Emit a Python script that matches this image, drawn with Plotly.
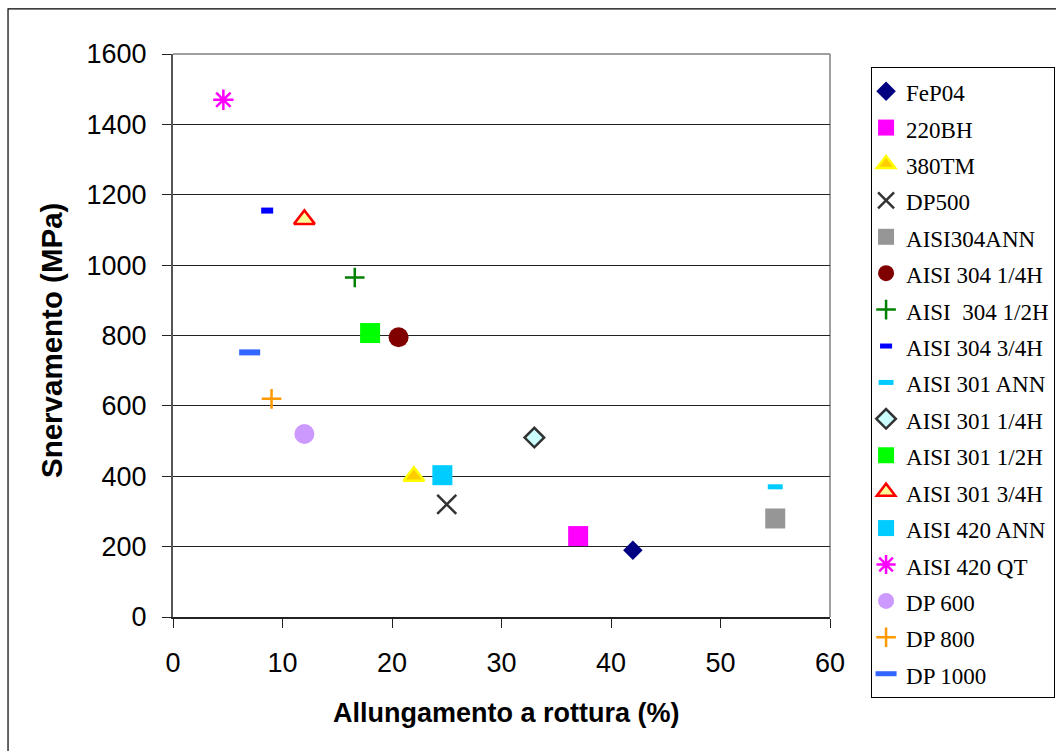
import plotly.graph_objects as go

# Steel grades: elongation at break (%) vs. yield strength (MPa)
grades = ["FeP04", "220BH", "380TM", "DP500", "AISI304ANN", "AISI 304 1/4H",
          "AISI\u00a0\u00a0304 1/2H", "AISI 304 3/4H", "AISI 301 ANN", "AISI 301 1/4H",
          "AISI 301 1/2H", "AISI 301 3/4H", "AISI 420 ANN", "AISI 420 QT",
          "DP 600", "DP 800", "DP 1000"]
elongation = [42, 37, 22, 25, 55, 20.6, 16.6, 8.6, 55, 33, 18, 12, 24.6, 4.6, 12, 9, 7]
yield_strength = [190, 230, 400, 320, 280, 795, 965, 1155, 370, 510, 807, 1130, 403, 1470, 520, 620, 752]

# marker style per grade: symbol, size, fill, outline colour, outline width
styles = [
    ("diamond", 15, "#000080", "#000080", 0),
    ("square", 20, "#FF00FF", "#FF00FF", 0),
    ("triangle-up", 18, "#FFCC00", "#FFFF00", 2.5),
    ("x-thin", 19, "#333333", "#333333", 2.5),
    ("square", 20, "#969696", "#969696", 0),
    ("circle", 20, "#800000", "#800000", 0),
    ("cross-thin", 14, "#008000", "#008000", 2.5),
    ("line-ew", 8.6, "#0000FF", "#0000FF", 6),
    ("line-ew", 10.7, "#00CCFF", "#00CCFF", 5),
    ("diamond", 15, "#CCFFFF", "#333333", 2.5),
    ("square", 20, "#00FF00", "#00FF00", 0),
    ("triangle-up", 18, "#FFFF99", "#FF0000", 2.5),
    ("square", 20, "#00CCFF", "#00CCFF", 0),
    ("asterisk-open", 17, "#FF00FF", "#FF00FF", 2.5),
    ("circle", 20, "#CC99FF", "#CC99FF", 0),
    ("cross-thin", 14, "#FF9900", "#FF9900", 2.5),
    ("line-ew", 15, "#3366FF", "#3366FF", 6),
]

fig = go.Figure()
for name, xv, yv, (sym, size, fill, lc, lw) in zip(grades, elongation, yield_strength, styles):
    fig.add_trace(go.Scatter(
        x=[xv], y=[yv], mode="markers",
        name=f"<span style='font-size:23px'>{name}</span>",
        marker=dict(symbol=sym, size=size, color=fill,
                    line=dict(color=lc, width=lw)),
    ))

tick_font = dict(family="Liberation Sans, Arial, sans-serif", size=27, color="black")
xtitle_font = dict(family="Liberation Sans, Arial, sans-serif", size=27, color="black")
ytitle_font = dict(family="Liberation Sans, Arial, sans-serif", size=29.5, color="black")

fig.update_layout(
    width=1056, height=751,
    margin=dict(l=173, r=226, t=54, b=134, autoexpand=False),
    paper_bgcolor="white", plot_bgcolor="white",
    showlegend=True,
    legend=dict(
        x=1.0625, y=0.977, xanchor="left", yanchor="top",
        font=dict(family="Liberation Serif, Times New Roman, serif", size=25.7, color="black"),
        bordercolor="black", borderwidth=1, bgcolor="white",
        itemwidth=30, tracegroupgap=0, indentation=-6, maxheight=700,
    ),
    xaxis=dict(
        range=[0, 60], dtick=10, showgrid=False, zeroline=False,
        showline=True, linecolor="#222222", linewidth=2,
        ticks="outside", ticklen=9, tickcolor="#222222", tickwidth=1,
        tickfont=tick_font, ticklabelstandoff=12,
    ),
    yaxis=dict(
        range=[0, 1600], dtick=200, showgrid=True, gridcolor="#222222", gridwidth=1,
        zeroline=False,
        showline=True, linecolor="#555555", linewidth=2,
        ticks="outside", ticklen=9, tickcolor="#222222", tickwidth=1,
        tickfont=tick_font, ticklabelstandoff=10,
    ),
    annotations=[
        dict(text="<b>Allungamento a rottura (%)</b>", xref="paper", yref="paper",
             x=0.507, y=-0.1705, xanchor="center", yanchor="middle",
             showarrow=False, font=xtitle_font),
        dict(text="<b>Snervamento (MPa)</b>", xref="paper", yref="paper",
             x=-0.1857, y=0.492, xanchor="center", yanchor="middle", textangle=-90,
             showarrow=False, font=ytitle_font),
    ],
    shapes=[
        # plot area frame (top and right edges in grey)
        dict(type="line", xref="paper", yref="paper", x0=0, x1=1, y0=1, y1=1,
             line=dict(color="#808080", width=1.5), layer="below"),
        dict(type="line", xref="paper", yref="paper", x0=1, x1=1, y0=0, y1=1,
             line=dict(color="#808080", width=1.5), layer="below"),
        # outer chart frame
        dict(type="rect", xref="paper", yref="paper",
             x0=-0.2511, x1=1.37, y0=-0.26, y1=1.08,
             line=dict(color="black", width=1.2), fillcolor="rgba(0,0,0,0)"),
    ],
)

fig.write_html("out.html")
